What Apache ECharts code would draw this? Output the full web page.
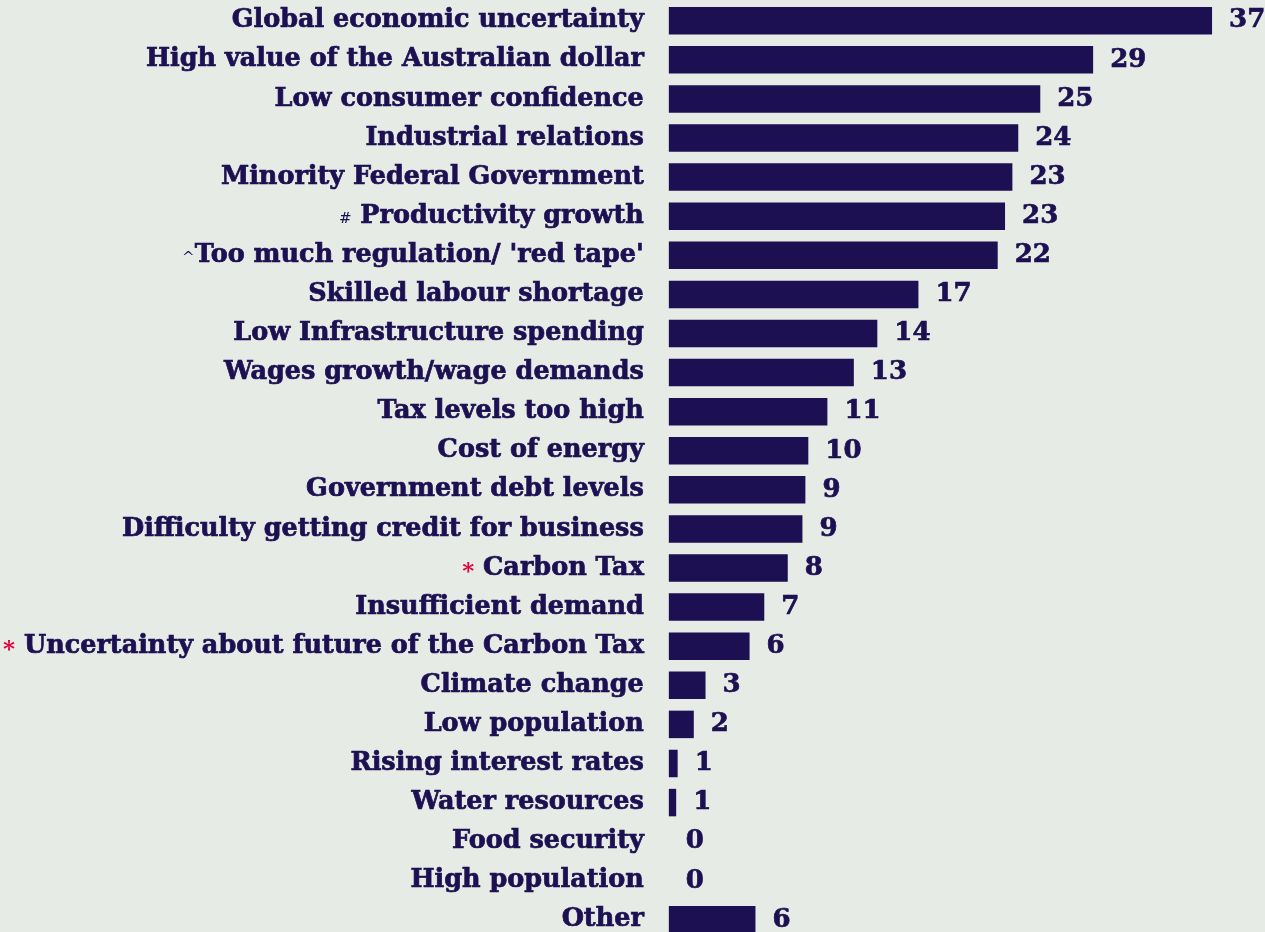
<!DOCTYPE html>
<html>
<head>
<meta charset="utf-8">
<script src="https://cdn.jsdelivr.net/npm/echarts@6/dist/echarts.min.js"></script>
<style>
  html, body { margin: 0; padding: 0; background: #e6ebe5; overflow: hidden; }
  /* taller than the window so the last row can run off the bottom edge */
  #chart { width: 1265px; height: 960px; }
</style>
</head>
<body>
<div id="chart"></div>
<script>
// Factors holding back business investment (% of respondents), top to bottom
const categories = [
  'Global economic uncertainty',
  'High value of the Australian dollar',
  'Low consumer confidence',
  'Industrial relations',
  'Minority Federal Government',
  'Productivity growth',
  "Too much regulation/ 'red tape'",
  'Skilled labour shortage',
  'Low Infrastructure spending',
  'Wages growth/wage demands',
  'Tax levels too high',
  'Cost of energy',
  'Government debt levels',
  'Difficulty getting credit for business',
  'Carbon Tax',
  'Insufficient demand',
  'Uncertainty about future of the Carbon Tax',
  'Climate change',
  'Low population',
  'Rising interest rates',
  'Water resources',
  'Food security',
  'High population',
  'Other'
];

// Footnote markers shown before some category names
const markers = [
  '', '', '', '', '', '#', '^', '', '', '', '', '', '',
  '', '*', '', '*', '', '', '', '', '', '', ''
];

// Share of respondents (%), labels show whole numbers
const values = [
  37.0, 28.9, 25.3, 23.8, 23.4, 22.9, 22.4, 17.0, 14.2, 12.6, 10.8, 9.5,
  9.3, 9.1, 8.1, 6.5, 5.5, 2.5, 1.7, 0.6, 0.5, 0, 0, 5.9
];

const ink = '#1c0f52';
const serif = "'DejaVu Serif', 'Liberation Serif', serif";

const chart = echarts.init(document.getElementById('chart'));

chart.setOption({
  backgroundColor: '#e6ebe5',
  animation: false,
  grid: {
    left: 668.5,
    top: 1.2,
    width: 587.6,
    height: 938.2,
    containLabel: false
  },
  xAxis: {
    type: 'value',
    min: 0,
    max: 40,
    show: false
  },
  yAxis: {
    type: 'category',
    data: categories,
    inverse: true,
    axisLine: { show: false },
    axisTick: { show: false },
    splitLine: { show: false },
    axisLabel: {
      margin: 25,
      color: ink,
      fontFamily: serif,
      fontWeight: 'bold',
      fontSize: 25.5,
      textBorderColor: ink,
      textBorderWidth: 0.7,
      formatter: function (name, idx) {
        const m = markers[idx];
        if (m === '*') return '{star|*} ' + name;
        if (m === '#') return '{mark|#} ' + name;
        if (m === '^') return '{mark|^}' + name;
        return name;
      },
      rich: {
        star: {
          color: '#e4003a',
          fontFamily: serif,
          fontSize: 23,
          fontWeight: 'bold',
          textBorderWidth: 0,
          verticalAlign: 'top',
          padding: [8, 0, 0, 0]
        },
        mark: {
          color: ink,
          fontFamily: serif,
          fontSize: 15,
          fontWeight: 'normal',
          textBorderWidth: 0,
          verticalAlign: 'top',
          padding: [8, 0, 0, 0]
        }
      }
    }
  },
  series: [{
    type: 'bar',
    data: values,
    barWidth: 27.5,
    itemStyle: { color: ink },
    label: {
      show: true,
      position: 'right',
      distance: 17,
      color: ink,
      fontFamily: serif,
      fontWeight: 'bold',
      fontSize: 26,
      textBorderColor: ink,
      textBorderWidth: 0.7,
      formatter: function (p) { return String(Math.round(p.value)); }
    }
  }]
});
</script>
</body>
</html>
